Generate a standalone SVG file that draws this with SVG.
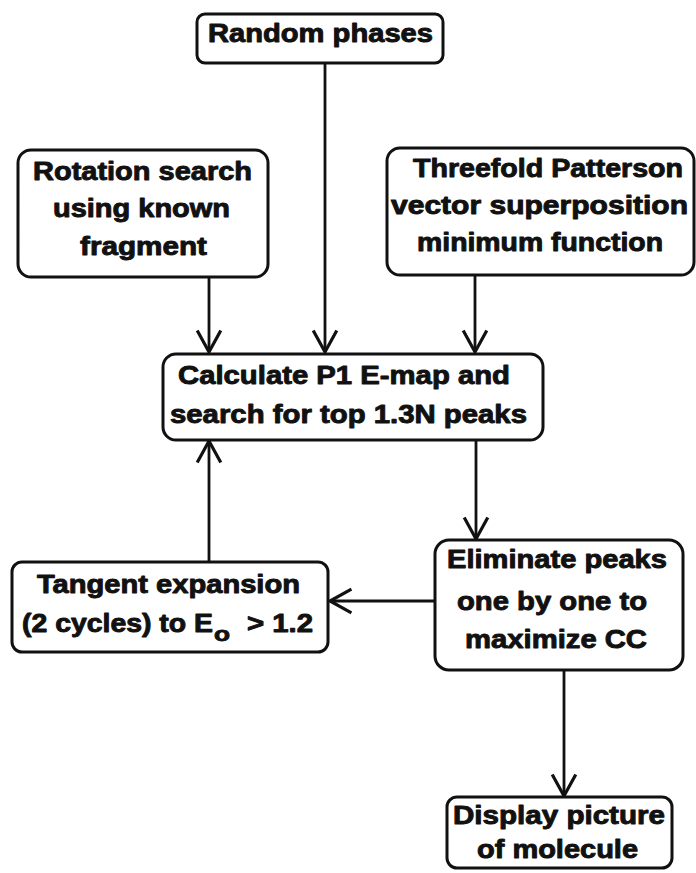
<svg xmlns="http://www.w3.org/2000/svg" width="696" height="873" viewBox="0 0 696 873">
  <style>
    .box { fill: #ffffff; stroke: #111111; stroke-width: 3; }
    .lbl { font-family: "Liberation Sans", Arial, sans-serif; font-weight: bold; font-size: 25px; fill: #111111; stroke: #111111; stroke-width: 0.9; stroke-linejoin: round; }
    .sub { font-size: 21px; }
    .edge { fill: none; stroke: #111111; stroke-width: 2.8; }
  </style>
  <defs>
    <marker id="arrow" markerUnits="userSpaceOnUse" markerWidth="30" markerHeight="30" viewBox="-24 -14 28 28" refX="0" refY="0" orient="auto">
      <path d="M -20,-11 L 0,0 L -20,11" fill="none" stroke="#111111" stroke-width="3" stroke-linejoin="miter"/>
    </marker>
  </defs>

  <rect width="696" height="873" fill="#ffffff"/>

  <!-- connectors -->
  <g id="connectors">
    <path class="edge" d="M 325,63 L 325,352" marker-end="url(#arrow)"/>
    <path class="edge" d="M 209,277 L 209,352" marker-end="url(#arrow)"/>
    <path class="edge" d="M 475,275 L 475,352" marker-end="url(#arrow)"/>
    <path class="edge" d="M 476,440 L 476,539" marker-end="url(#arrow)"/>
    <path class="edge" d="M 435,601 L 330,601" marker-end="url(#arrow)"/>
    <path class="edge" d="M 209,562 L 209,441" marker-end="url(#arrow)"/>
    <path class="edge" d="M 564,670 L 564,796" marker-end="url(#arrow)"/>
  </g>

  <!-- nodes -->
  <g id="random-phases">
    <rect class="box" x="197" y="14" width="246" height="49" rx="8"/>
    <text class="lbl" x="208" y="42" textLength="225" lengthAdjust="spacingAndGlyphs">Random phases</text>
  </g>

  <g id="rotation-search">
    <rect class="box" x="18" y="150" width="250" height="127" rx="13"/>
    <text class="lbl" x="33" y="180" textLength="219" lengthAdjust="spacingAndGlyphs">Rotation search</text>
    <text class="lbl" x="53" y="217" textLength="177" lengthAdjust="spacingAndGlyphs">using known</text>
    <text class="lbl" x="80" y="255" textLength="127" lengthAdjust="spacingAndGlyphs">fragment</text>
  </g>

  <g id="patterson">
    <rect class="box" x="387" y="148" width="307" height="127" rx="13"/>
    <text class="lbl" x="413" y="177" textLength="270" lengthAdjust="spacingAndGlyphs">Threefold Patterson</text>
    <text class="lbl" x="391" y="214" textLength="297" lengthAdjust="spacingAndGlyphs">vector superposition</text>
    <text class="lbl" x="417" y="251" textLength="246" lengthAdjust="spacingAndGlyphs">minimum function</text>
  </g>

  <g id="emap">
    <rect class="box" x="163" y="354" width="380" height="86" rx="13"/>
    <text class="lbl" x="178" y="384" textLength="332" lengthAdjust="spacingAndGlyphs">Calculate P1 E-map and</text>
    <text class="lbl" x="170" y="423" textLength="357" lengthAdjust="spacingAndGlyphs">search for top 1.3N peaks</text>
  </g>

  <g id="tangent">
    <rect class="box" x="12" y="562" width="316" height="90" rx="10"/>
    <text class="lbl" x="37" y="593" textLength="263" lengthAdjust="spacingAndGlyphs">Tangent expansion</text>
    <text class="lbl" y="632"><tspan x="22" textLength="191" lengthAdjust="spacingAndGlyphs">(2 cycles) to E</tspan><tspan class="sub" x="214" y="641" textLength="16" lengthAdjust="spacingAndGlyphs">o</tspan><tspan x="247" y="632" textLength="66" lengthAdjust="spacingAndGlyphs">&gt; 1.2</tspan></text>
  </g>

  <g id="eliminate">
    <rect class="box" x="435" y="540" width="248" height="130" rx="14"/>
    <text class="lbl" x="447" y="568" textLength="220" lengthAdjust="spacingAndGlyphs">Eliminate peaks</text>
    <text class="lbl" x="457" y="610" textLength="190" lengthAdjust="spacingAndGlyphs">one by one to</text>
    <text class="lbl" x="465" y="648" textLength="182" lengthAdjust="spacingAndGlyphs">maximize CC</text>
  </g>

  <g id="display">
    <rect class="box" x="447" y="797" width="225" height="71" rx="10"/>
    <text class="lbl" x="453" y="824" textLength="212" lengthAdjust="spacingAndGlyphs">Display picture</text>
    <text class="lbl" x="477" y="858" textLength="161" lengthAdjust="spacingAndGlyphs">of molecule</text>
  </g>
</svg>
